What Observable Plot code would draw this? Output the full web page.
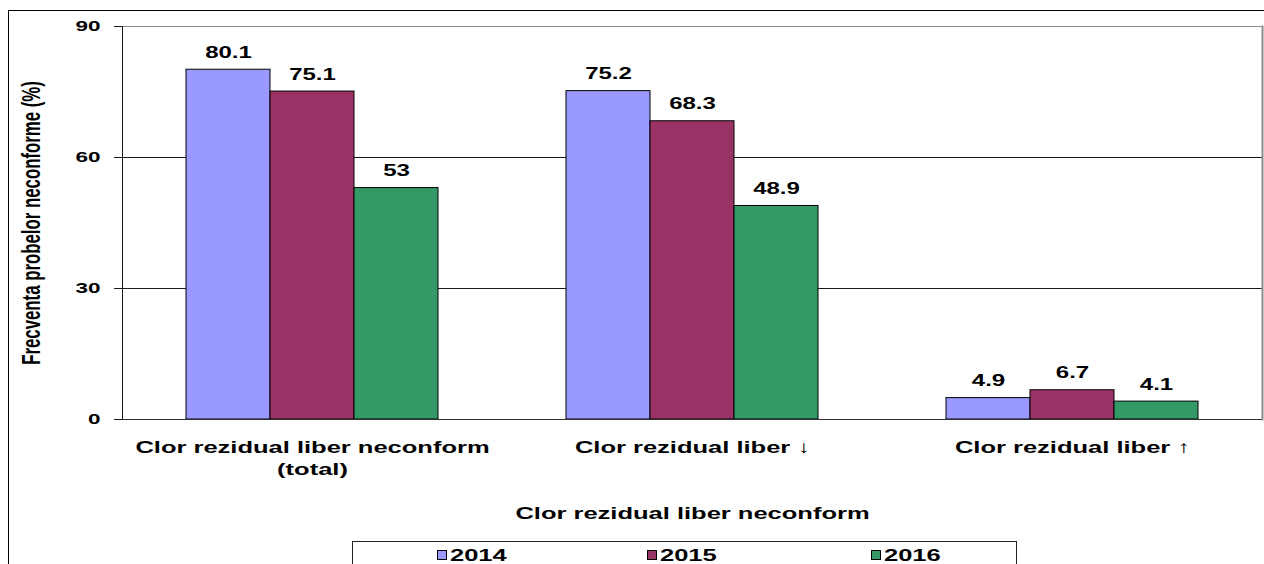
<!DOCTYPE html>
<html>
<head>
<meta charset="utf-8">
<script src="https://cdn.jsdelivr.net/npm/d3@7"></script>
<script src="https://cdn.jsdelivr.net/npm/@observablehq/plot@0.6"></script>
<style>
  html, body { margin: 0; padding: 0; background: #fff; }
  #wrap { position: relative; width: 1264px; height: 564px; overflow: hidden; font-family: "Liberation Sans", Arial, sans-serif; }
  #border { position: absolute; left: 8px; top: 10px; width: 1300px; height: 600px; border-left: 1.5px solid #000; border-top: 1.5px solid #000; pointer-events: none; }
  #legend { position: relative; margin-left: 352px; width: 665px; height: 40px; border: 1px solid #222; box-sizing: border-box; }
  .item { position: absolute; top: 0; height: 24px; display: flex; align-items: center; }
  .sw { width: 10px; height: 10px; border: 1px solid #000; box-sizing: border-box; margin-right: 3px; }
  .lab { font-size: 17px; font-weight: bold; line-height: 17px; display: inline-block; transform: scaleX(1.5); transform-origin: left center; }
</style>
</head>
<body>
<div id="wrap"><div id="chart"></div><div id="legend"></div><div id="border"></div></div>
<script>
const categories = ["Clor rezidual liber neconform (total)", "Clor rezidual liber ↓", "Clor rezidual liber ↑"];
const categoryLines = ["Clor rezidual liber neconform\n(total)", "Clor rezidual liber ↓", "Clor rezidual liber ↑"];
const years = ["2014", "2015", "2016"];
const values2014 = [80.1, 75.2, 4.9];
const values2015 = [75.1, 68.3, 6.7];
const values2016 = [53, 48.9, 4.1];
const yTicks = [0, 30, 60, 90];
const colors = ["#9999FF", "#993366", "#339966"];
const yTitle = "Frecventa probelor neconforme (%)";
const xTitle = "Clor rezidual liber neconform";

const series = [values2014, values2015, values2016];
const data = categories.flatMap((c, i) => years.map((yr, j) => ({category: c, year: yr, value: series[j][i]})));

const chart = Plot.plot({
  width: 1264,
  height: 541,
  marginLeft: 122,
  marginRight: 2,
  marginTop: 26,
  marginBottom: 122,
  style: {fontFamily: '"Liberation Sans", Arial, sans-serif', fontWeight: "bold", color: "#000", background: "transparent", overflow: "visible"},
  fx: {domain: categories, padding: 0, label: null},
  x: {domain: years, paddingInner: 0, paddingOuter: 0.745, axis: null},
  y: {domain: [0, 90], label: null},
  color: {domain: years, range: colors},
  marks: [
    Plot.ruleY([90], {stroke: "#8c8c8c", strokeWidth: 1}),
    Plot.ruleY([30, 60], {stroke: "#1a1a1a", strokeWidth: 1}),
    Plot.barY(data, {fx: "category", x: "year", y: "value", fill: "year", stroke: "#000", strokeWidth: 1, insetLeft: 0, insetRight: 0}),
    Plot.ruleY([0], {stroke: "#333", strokeWidth: 1}),
    Plot.frame({anchor: "right", facetAnchor: "right", stroke: "#8c8c8c", strokeWidth: 2}),
    Plot.frame({anchor: "left", facetAnchor: "left", stroke: "#1a1a1a", strokeWidth: 1}),
    Plot.axisY({ticks: yTicks, tickSize: 8, tickPadding: 14, fontSize: 15, fontWeight: "bold", label: null, stroke: "#1a1a1a"}),
    Plot.axisFx({anchor: "bottom", tickSize: 0, tickPadding: 19, fontSize: 17, fontWeight: "bold", lineHeight: 1.24, label: null, tickFormat: (c) => categoryLines[categories.indexOf(c)]}),
    Plot.text(data, {fx: "category", x: "year", y: "value", text: (d) => String(d.value), dy: -17, fontSize: 16, fontWeight: "bold", fill: "#000"}),
    Plot.text([yTitle], {fx: () => categories[0], frameAnchor: "left", textAnchor: "middle", rotate: -90, dx: -91, fontSize: 16.8, fontWeight: "bold", fill: "#000"}),
    Plot.text([xTitle], {fx: () => categories[1], frameAnchor: "bottom", dy: 99, fontSize: 17, fontWeight: "bold", fill: "#000"})
  ]
});
document.getElementById("chart").appendChild(chart);

// widen all text horizontally like the reference (stretched rendering)
for (const t of chart.querySelectorAll("text")) {
  if (t.textContent === yTitle) {
    const tr = t.getAttribute("transform") || "";
    t.setAttribute("transform", tr.replace("rotate(", "scale(1.5,1) rotate("));
    continue;
  }
  const parts = t.querySelectorAll("tspan");
  const els = parts.length ? [...parts] : [t];
  for (const el of els) {
    const len = el.getComputedTextLength();
    if (!len) continue;
    el.setAttribute("textLength", (len * 1.5).toFixed(1));
    el.setAttribute("lengthAdjust", "spacingAndGlyphs");
  }
}

// legend
const legend = document.getElementById("legend");
const swatchX = [437, 647, 871];
years.forEach((yr, i) => {
  const item = document.createElement("div");
  item.className = "item";
  item.style.left = (swatchX[i] - 353) + "px";
  item.style.top = "1px";
  const sw = document.createElement("div");
  sw.className = "sw";
  sw.style.background = colors[i];
  const lab = document.createElement("span");
  lab.className = "lab";
  lab.textContent = yr;
  item.appendChild(sw);
  item.appendChild(lab);
  legend.appendChild(item);
});
</script>
</body>
</html>
